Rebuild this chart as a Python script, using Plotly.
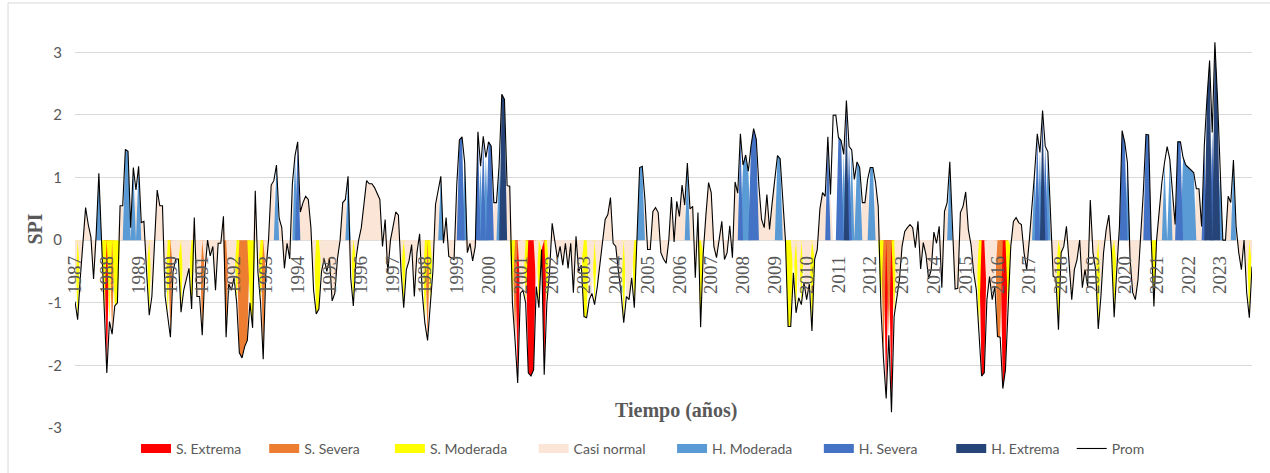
import plotly.graph_objects as go

# Índice de precipitación estandarizado (SPI) mensual, promedio
prom = [
    -0.98, -1.27, -0.6, 0.0, 0.52, 0.25, 0.05, -0.62, 0.1, 1.07, 0.0, -1.2,
    -2.12, -1.3, -1.5, -1.05, -1.0, 0.55, 0.55, 1.45, 1.42, 0.2, 1.16, 0.8,
    1.18, 0.28, 0.3, -0.5, -1.2, -0.9, 0.0, 0.8, 0.55, 0.55, -0.9, -1.2,
    -1.55, -0.5, -0.3, -0.3, -1.15, -0.8, -0.6, -0.45, -1.1, 0.36, -0.9, -0.9,
    -1.52, -0.5, 0.0, -0.25, -0.1, -0.8, -0.05, -0.05, 0.38, -1.55, -0.7, -0.8,
    -0.6, -1.0, -1.8, -1.88, -1.7, -1.6, -1.0, -1.4, 0.79, -0.5, -1.0, -1.9,
    -0.5, 0.0, 0.88, 0.95, 1.2, 0.35, 0.2, -0.45, -0.05, -0.3, 0.9, 1.35,
    1.57, 0.45, 0.6, 0.7, 0.65, 0.2, -0.8, -1.18, -1.1, -0.5, -0.3, -0.5,
    -0.3, -0.97, -0.85, -0.3, 0.0, 0.6, 0.65, 1.02, -0.6, -1.05, -0.3, 0.0,
    0.2, 0.55, 0.95,
    0.9, 0.9, 0.84, 0.75, 0.65, -0.1, 0.33, -0.52, 0.0, 0.22, 0.45, 0.4,
    -0.5, -1.08, -0.47, -0.33, -0.07, -0.9, -0.2, 0.1, -0.85, -1.33, -1.6, -1.05,
    -0.5, 0.57, 0.78, 1.02, -0.05, 0.36, -0.26, -0.28, -0.31, 0.87, 1.6, 1.65,
    1.24, -0.2, -0.05, -0.33, -0.1, 1.73, 1.18, 1.66, 1.32, 1.57, 1.5, 0.6,
    0.6, 1.2, 2.33, 2.25, 0.87, 0.86, -1.0, -1.6, -2.28, -0.85, -0.8, -1.0,
    -2.12, -2.17, -2.07, -0.74, -1.08, -0.15, -2.15, -1.0, -0.52, 0.27, 0.0, -0.3,
    -0.1, -0.4, -0.05, -0.45, -0.05, -0.84, 0.06, -0.5, -0.4, -1.22, -1.24, -0.95,
    -0.85, -1.03, -0.75, -0.4, 0.0, 0.33, 0.41, 0.68, -0.05, -0.1, -0.5, -0.85,
    -1.32, -0.9, -0.95, -0.6, -1.08, 0.0, 1.16, 1.18, 0.65, -0.15, -0.15, 0.46,
    0.52, 0.44,
    -0.2,
    -0.3, -0.37, 0.0, 0.69, -0.03, 0.62, 0.38, 0.88, 0.56, 1.23, 0.5, 0.54,
    -0.6, 0.44, -1.39, -0.2, 0.4, 0.92, 0.76, -0.1, -0.28, 0.0, 0.3, -0.31,
    -0.2, 0.23, -0.28, 0.93, 0.75, 1.7, 1.2, 1.36, 1.1, 1.5, 1.78, 1.61,
    0.86, 0.33, 0.2, 0.73, 0.17, 0.6, 0.97, 1.35, 1.3, 0.65, 0.0, -1.38,
    -1.38, -0.52, -1.16, -0.92, -1.03, -0.68, -0.95, -0.7, -1.45, -0.31, -0.15, 0.5,
    0.76, 0.7, 1.65, 0.73, 1.995, 1.997, 1.64, 1.59, 1.37, 2.23, 1.5, 1.44,
    0.97, 1.25, 1.16, 0.6, 0.6, 0.97, 1.16, 1.16, 0.92, 0.54, -1.06, -1.9,
    -2.53, -1.52, -2.75, -1.22, -0.95, -0.63, -0.1, 0.14, 0.2, 0.25, 0.2, -0.12,
    0.3, -0.46, -0.04, -0.23, -0.62, -0.47, 0.13, -0.05, 0.22, -0.76, 0.46, 0.6,
    1.25, 0.12, -0.78,
    -0.77, 0.44, 0.54, 0.77, 0.17, -0.07, -0.52, -0.79, -1.48, -2.17, -2.12, -0.95,
    -0.58, -0.95, -0.74, -1.54, -1.55, -2.37, -2.07, -1.16, -0.1, 0.3, 0.36, 0.28,
    0.25, -0.2, -0.47, 0.0, 0.5, 1.08, 1.7, 1.4, 2.07, 1.5, 1.41, 0.3,
    -0.58, -0.6, -1.43, -0.2, -0.1, 0.22, -0.4, -0.95, -0.47, -0.31, 0.0, -0.76,
    -0.47, -0.74, 0.64, -0.2, -0.47, -1.42, -0.9, -0.2, 0.17, 0.4, -0.2, -1.23,
    -0.47, 0.22, 1.75, 1.56, 1.24, -0.3, -0.84, -0.95, -0.63, 0.0, 0.76, 1.69,
    1.68, 0.0, -1.06, 0.0, 0.49, 0.92, 1.24, 1.495, 1.29, 0.75, 0.25, 1.57,
    1.57, 1.32, 1.2, 1.16, 1.12, 1.08, 0.82, 0.82, 0.22, 1.5, 2.25, 2.87,
    1.72, 3.16, 2.25, 1.13, 0.0, 0.0, 0.7, 0.6, 1.28, 0.22, -0.2, -0.47,
    0.0, -0.84, -1.24, -0.42,
]

anios = list(range(1987, 2024))
marcas_spi = [-3, -2, -1, 0, 1, 2, 3]

# Clases del SPI (límites inclusivos a dos decimales)
clases = ["S. Extrema", "S. Severa", "S. Moderada", "Casi normal",
          "H. Moderada", "H. Severa", "H. Extrema"]
lim_inf = [None, -1.99, -1.49, -0.99, 1.00, 1.50, 2.00]
lim_sup = [-2.00, -1.50, -1.00, 0.99, 1.49, 1.99, None]
colores = ["#FF0000", "#ED7D31", "#FFFF00", "#FBE5D6",
           "#5B9BD5", "#4472C4", "#264478"]
# espacio extra tras cada rótulo de la leyenda
relleno = [5, 7, 6, 6, 6, 8, 2]

meses = list(range(len(prom)))
y_min, y_max = -3.0, 3.5
gris = "#595959"
NBSP = "\u00a0"


def en_clase(v, lo, hi):
    if lo is not None and v < lo:
        return False
    if hi is not None and v > hi:
        return False
    return True


fig = go.Figure()

# Áreas por clase (el valor del mes si pertenece a la clase, 0 si no)
for nombre, lo, hi, color in zip(clases, lim_inf, lim_sup, colores):
    serie = [v if en_clase(v, lo, hi) else 0.0 for v in prom]
    fig.add_trace(go.Scatter(
        x=meses, y=serie, mode="lines", fill="tozeroy",
        fillcolor=color, line=dict(width=0, color=color),
        showlegend=False, hoverinfo="skip",
    ))

# Entradas de leyenda
for nombre, color, n in zip(clases, colores, relleno):
    fig.add_trace(go.Scatter(
        x=[None], y=[None], mode="lines", name=nombre + NBSP * n,
        line=dict(color=color, width=9),
    ))

fig.add_trace(go.Scatter(
    x=meses, y=prom, mode="lines", name="Prom",
    line=dict(color="black", width=1.1),
))

fig.update_layout(
    width=1270, height=473,
    margin=dict(l=75, r=18, t=21, b=45, autoexpand=False),
    paper_bgcolor="white", plot_bgcolor="white",
    showlegend=True,
    legend=dict(
        orientation="h", x=0.4826, xanchor="center", y=-0.012, yanchor="top",
        font=dict(family="Lato", size=14, color=gris),
        itemwidth=30, traceorder="normal",
    ),
    xaxis=dict(
        range=[0, len(prom) - 1],
        tickvals=[12 * k for k in range(len(anios))],
        ticktext=[str(a) for a in anios],
        tickangle=-90,
        tickfont=dict(family="Liberation Serif", size=19, color=gris),
        showgrid=False, zeroline=False, showline=False, ticks="",
        anchor="free", position=(0 - y_min) / (y_max - y_min),
        ticklabelstandoff=11,
    ),
    yaxis=dict(
        range=[y_min, y_max],
        tickvals=marcas_spi,
        ticktext=[str(m) for m in marcas_spi],
        gridcolor="#D9D9D9", gridwidth=1,
        zeroline=False, showline=False, ticks="",
        tickfont=dict(family="Lato", size=15, color=gris),
        ticklabelstandoff=12,
    ),
    annotations=[
        dict(
            text="<b>Tiempo (años)</b>", xref="paper", yref="paper",
            x=0.511, y=0.044, xanchor="center", yanchor="middle",
            showarrow=False,
            font=dict(family="Liberation Serif", size=20, color=gris),
        ),
        dict(
            text="<b>SPI</b>", xref="paper", yref="paper",
            x=-0.034, y=0.49, xanchor="center", yanchor="middle",
            textangle=-90, showarrow=False,
            font=dict(family="Liberation Serif", size=20, color=gris),
        ),
    ],
    shapes=[dict(
        type="rect", xref="paper", yref="paper",
        x0=-0.0569, y0=-0.3, x1=1.2, y1=1.0442,
        line=dict(color="#D9D9D9", width=1), fillcolor="rgba(0,0,0,0)",
        layer="below",
    )],
)

fig.write_html("out.html")
